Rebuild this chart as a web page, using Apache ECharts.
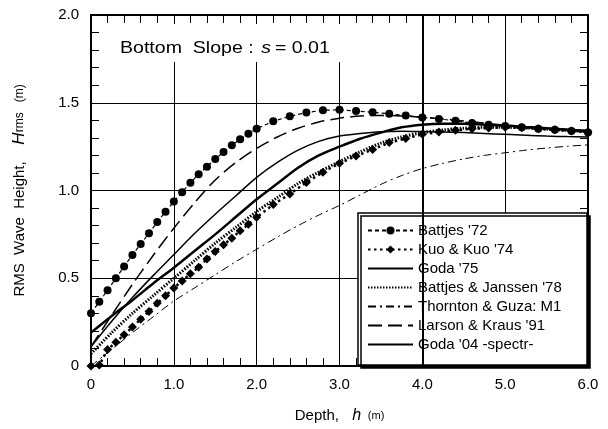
<!DOCTYPE html>
<html>
<head>
<meta charset="utf-8">
<script src="https://cdn.jsdelivr.net/npm/echarts@6/dist/echarts.min.js"></script>
<style>
html, body { margin: 0; padding: 0; background: #fff; }
#chart { width: 608px; height: 429px; }
</style>
</head>
<body>
<div id="chart"></div>
<script>
// depths where the marker curves have symbols (m)
const depthMarks = [0, 0.1, 0.2, 0.3, 0.4, 0.5, 0.6, 0.7, 0.8, 0.9, 1.0,
    1.1, 1.2, 1.3, 1.4, 1.5, 1.6, 1.7, 1.8, 1.9, 2.0,
    2.2, 2.4, 2.6, 2.8, 3.0, 3.2, 3.4, 3.6, 3.8, 4.0,
    4.2, 4.4, 4.6, 4.8, 5.0, 5.2, 5.4, 5.6, 5.8, 6.0];
const battjes72 = [0.30, 0.366, 0.432, 0.50, 0.567, 0.633, 0.695, 0.757, 0.82, 0.879, 0.937,
    0.99, 1.044, 1.093, 1.136, 1.179, 1.22, 1.258, 1.292, 1.324, 1.352,
    1.394, 1.423, 1.444, 1.457, 1.46, 1.453, 1.446, 1.437, 1.427, 1.416,
    1.408, 1.397, 1.384, 1.375, 1.367, 1.36, 1.352, 1.346, 1.339, 1.331];
const kuoKuo74 = [0, 0.005, 0.094, 0.135, 0.178, 0.222, 0.267, 0.31, 0.357, 0.40, 0.445,
    0.484, 0.526, 0.563, 0.61, 0.652, 0.691, 0.728, 0.77, 0.807, 0.847,
    0.92, 0.98, 1.046, 1.104, 1.155, 1.196, 1.234, 1.273, 1.296, 1.32,
    1.333, 1.343, 1.352, 1.356, 1.36, 1.358, 1.352, 1.346, 1.339, 1.333];

// depths for the plain curves (m)
const depthCurve = [0, 0.25, 0.5, 0.75, 1.0, 1.25, 1.5, 1.75, 2.0, 2.25, 2.5, 2.75, 3.0,
    3.25, 3.5, 3.75, 4.0, 4.25, 4.5, 4.75, 5.0, 5.25, 5.5, 5.75, 6.0];
const goda75 = [0.19, 0.285, 0.375, 0.47, 0.56, 0.655, 0.75, 0.85, 0.95, 1.04, 1.13, 1.20, 1.25,
    1.295, 1.33, 1.36, 1.375, 1.38, 1.38, 1.375, 1.37, 1.362, 1.355, 1.347, 1.34];
const battjesJanssen78 = [0.07, 0.19, 0.30, 0.40, 0.50, 0.60, 0.70, 0.79, 0.88, 0.96, 1.04, 1.105, 1.165,
    1.22, 1.27, 1.305, 1.33, 1.345, 1.355, 1.36, 1.36, 1.357, 1.35, 1.343, 1.335];
const thorntonGuza = [0, 0.095, 0.19, 0.28, 0.37, 0.445, 0.52, 0.595, 0.665, 0.735, 0.80, 0.86, 0.915,
    0.975, 1.035, 1.085, 1.125, 1.155, 1.18, 1.20, 1.215, 1.23, 1.242, 1.252, 1.26];
const larsonKraus91 = [0.11, 0.29, 0.465, 0.63, 0.785, 0.93, 1.06, 1.16, 1.24, 1.305, 1.355, 1.39, 1.412,
    1.424, 1.428, 1.425, 1.418, 1.408, 1.396, 1.384, 1.372, 1.362, 1.352, 1.343, 1.335];
const goda04 = [0.11, 0.255, 0.39, 0.515, 0.635, 0.755, 0.865, 0.97, 1.075, 1.16, 1.23, 1.28, 1.31,
    1.325, 1.335, 1.338, 1.336, 1.333, 1.33, 1.325, 1.32, 1.315, 1.31, 1.307, 1.305];

const seriesNames = ["Battjes '72", "Kuo & Kuo '74", "Goda '75", "Battjes & Janssen '78",
    "Thornton & Guza: M1", "Larson & Kraus '91", "Goda '04 -spectr-"];
// which legend entries carry a marker
const hasMarker = [true, true, false, false, false, false, false];

const FONT = 'Liberation Sans, Arial, sans-serif';

function pairs(xs, ys) {
    return xs.map((x, i) => [x, ys[i]]);
}

const chart = echarts.init(document.getElementById('chart'));

const tickFmt = v => (v === 0 ? '0' : v.toFixed(1));

function frameAxis(pos, isX, main) {
    return {
        type: 'value',
        position: pos,
        min: 0,
        max: isX ? 6 : 2,
        interval: isX ? 1 : 0.5,
        axisLine: { show: true, onZero: false, lineStyle: { color: '#000', width: 2 } },
        axisTick: { show: true, inside: true, length: 8, lineStyle: { color: '#000', width: 1 } },
        minorTick: { show: true, splitNumber: 5, length: 8, lineStyle: { color: '#000', width: 1 } },
        splitLine: { show: main, lineStyle: { color: '#000', width: 1 } },
        axisLabel: {
            show: main, formatter: tickFmt, color: '#000',
            fontSize: 15, fontFamily: FONT, margin: isX ? 11 : 12
        }
    };
}

const xMain = frameAxis('bottom', true, true);
xMain.name = '{a|Depth,}    {b|h}  {c|(m)}';
xMain.nameLocation = 'middle';
xMain.nameGap = 42;
xMain.nameTextStyle = {
    color: '#000',
    rich: {
        a: { fontSize: 15, fontFamily: FONT, color: '#000' },
        b: { fontSize: 16, fontFamily: FONT, fontStyle: 'italic', color: '#000' },
        c: { fontSize: 11, fontFamily: FONT, color: '#000' }
    }
};

const yMain = frameAxis('left', false, true);
yMain.name = '{a|RMS  Wave  Height,}     {b|H}{c|rms}   {c|(m)}';
yMain.nameLocation = 'middle';
yMain.nameRotate = 90;
yMain.nameGap = 63;
yMain.nameTextStyle = {
    color: '#000',
    rich: {
        a: { fontSize: 15, fontFamily: FONT, color: '#000' },
        b: { fontSize: 17, fontFamily: FONT, fontStyle: 'italic', color: '#000' },
        c: { fontSize: 12, fontFamily: FONT, color: '#000' }
    }
};

const legendData = seriesNames.map((name, i) => (hasMarker[i] ? { name } : {
    name,
    itemStyle: { color: 'rgba(0,0,0,0)', borderColor: 'rgba(0,0,0,0)', borderWidth: 0 }
}));

const option = {
    animation: false,
    backgroundColor: '#fff',
    grid: { left: 91, right: 20, top: 15, bottom: 59 },
    xAxis: [xMain, frameAxis('top', true, false)],
    yAxis: [yMain, frameAxis('right', false, false)],
    legend: {
        orient: 'vertical',
        left: 367,
        top: 223,
        padding: 0,
        itemWidth: 45,
        itemHeight: 10,
        itemGap: 4,
        textStyle: { color: '#000', fontSize: 15, fontFamily: FONT },
        data: legendData
    },
    graphic: [
        {
            type: 'rect', z: 3,
            shape: { x: 108, y: 24, width: 240, height: 38 },
            style: { fill: '#fff' }
        },
        {
            type: 'text', z: 4, x: 120, y: 48, scaleX: 1.15,
            style: {
                text: '{a|Bottom  Slope :}  {b|s} {a|= 0.01}',
                verticalAlign: 'middle',
                rich: {
                    a: { fontSize: 17, fontFamily: FONT, fill: '#000' },
                    b: { fontSize: 17, fontFamily: FONT, fontStyle: 'italic', fill: '#000' }
                }
            }
        },
        {
            type: 'rect', z: 3,
            shape: { x: 358, y: 213, width: 229, height: 152 },
            style: {
                fill: '#fff', stroke: '#000', lineWidth: 1.5,
                shadowColor: '#000', shadowOffsetX: 3, shadowOffsetY: 3, shadowBlur: 0
            }
        }
    ],
    series: [
        {
            name: seriesNames[0], type: 'line', data: pairs(depthMarks, battjes72),
            symbol: 'circle', symbolSize: 8, showAllSymbol: true,
            itemStyle: { color: '#000' },
            lineStyle: { color: '#000', width: 1.2, type: [4, 3] }
        },
        {
            name: seriesNames[1], type: 'line', data: pairs(depthMarks, kuoKuo74),
            symbol: 'diamond', symbolSize: 9, showAllSymbol: true,
            itemStyle: { color: '#000' },
            lineStyle: { color: '#000', width: 2.5, type: [2.5, 3.5] }
        },
        {
            name: seriesNames[2], type: 'line', data: pairs(depthCurve, goda75),
            symbol: 'none', smooth: 0.3,
            itemStyle: { color: '#000' },
            lineStyle: { color: '#000', width: 2.5, type: 'solid' }
        },
        {
            name: seriesNames[3], type: 'line', data: pairs(depthCurve, battjesJanssen78),
            symbol: 'none', smooth: 0.3,
            itemStyle: { color: '#000' },
            lineStyle: { color: '#000', width: 3, type: [1.5, 1.5] }
        },
        {
            name: seriesNames[4], type: 'line', data: pairs(depthCurve, thorntonGuza),
            symbol: 'none', smooth: 0.3,
            itemStyle: { color: '#000' },
            lineStyle: { color: '#000', width: 1, type: [8, 4, 2, 4] }
        },
        {
            name: seriesNames[5], type: 'line', data: pairs(depthCurve, larsonKraus91),
            symbol: 'none', smooth: 0.3,
            itemStyle: { color: '#000' },
            lineStyle: { color: '#000', width: 1.5, type: [14, 6] }
        },
        {
            name: seriesNames[6], type: 'line', data: pairs(depthCurve, goda04),
            symbol: 'none', smooth: 0.3,
            itemStyle: { color: '#000' },
            lineStyle: { color: '#000', width: 1.5, type: 'solid' },
            markLine: {
                silent: true, symbol: 'none', label: { show: false },
                lineStyle: { color: '#000', width: 2, type: 'solid' },
                data: [{ xAxis: 4 }]
            }
        }
    ]
};

chart.setOption(option);
</script>
</body>
</html>
